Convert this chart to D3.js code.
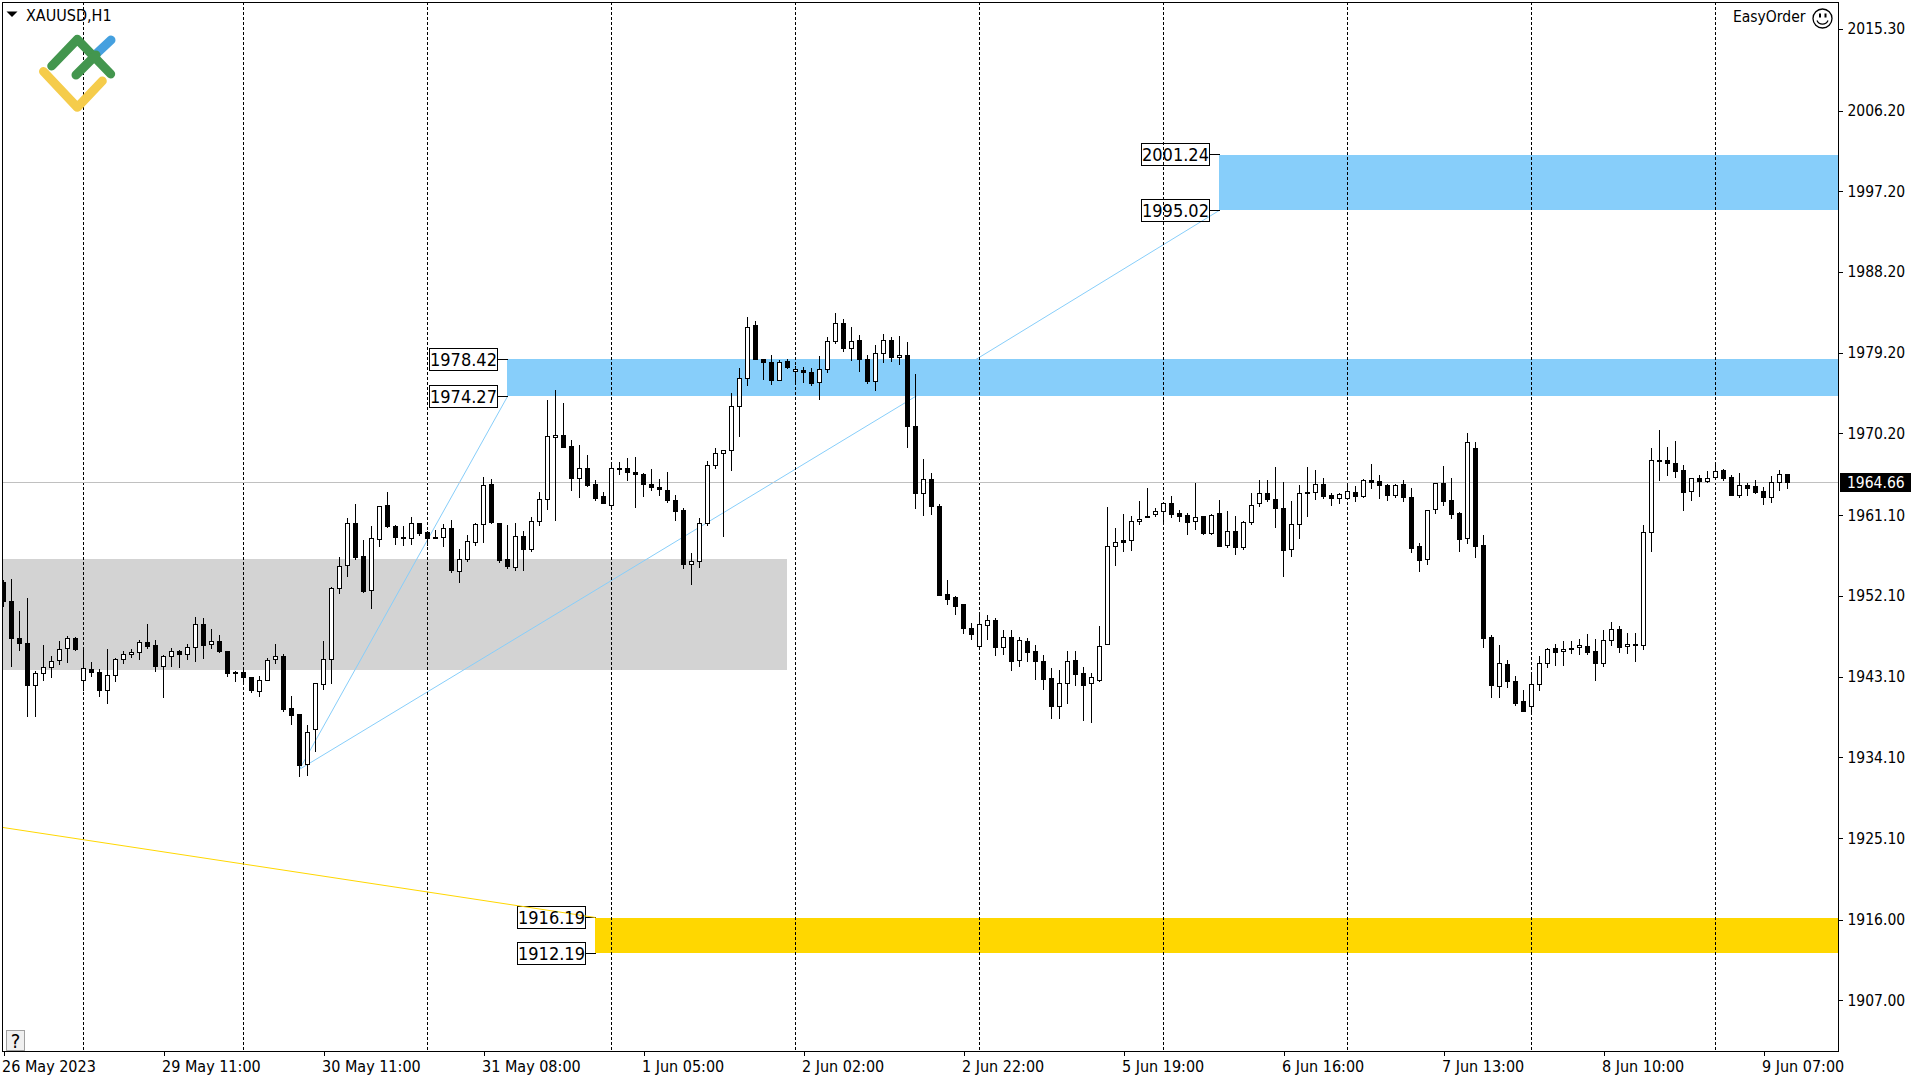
<!DOCTYPE html>
<html>
<head>
<meta charset="utf-8">
<title>XAUUSD,H1</title>
<script src="https://cdn.jsdelivr.net/npm/d3@7"></script>
<style>
html, body { margin: 0; padding: 0; background: #fff; }
svg { display: block; }
text { font-family: "DejaVu Sans Condensed", "DejaVu Sans", sans-serif; font-stretch: condensed; fill: #000; }
</style>
</head>
<body>
<div id="main"></div>
<script>
var opens = [
1953.50,1951.45,1947.32,1946.76,1942.00,1943.37,1944.04,1944.83,1946.13,1947.32,
1942.59,1943.82,1943.49,1941.44,1943.15,1944.94,1945.46,1945.72,1946.84,1946.50,
1944.12,1945.27,1945.87,1945.50,1946.28,1948.88,1946.61,1946.95,1945.83,1943.49,
1943.49,1942.93,1941.37,1942.59,1944.94,1945.31,1939.47,1938.80,1933.22,1937.12,
1942.15,1944.94,1952.86,1955.39,1960.12,1956.44,1952.64,1958.33,1962.13,1959.82,
1958.56,1958.45,1960.12,1959.11,1958.56,1958.56,1959.56,1954.72,1956.10,1958.00,
1960.01,1964.47,1960.12,1956.10,1955.21,1958.67,1957.22,1960.34,1962.80,1969.72,
1969.94,1968.64,1965.14,1966.26,1964.47,1963.13,1962.13,1966.26,1966.26,1965.81,
1965.59,1964.47,1964.14,1963.80,1962.69,1961.57,1955.54,1955.84,1960.12,1966.59,
1967.93,1968.23,1973.18,1976.31,1982.15,1978.43,1978.09,1976.08,1978.13,1977.09,
1977.20,1976.98,1975.86,1977.31,1980.44,1982.45,1979.65,1980.55,1978.43,1975.97,
1979.10,1980.47,1978.65,1978.87,1970.95,1963.43,1965.03,1962.02,1952.20,1951.86,
1951.08,1948.40,1946.43,1948.77,1949.26,1946.32,1947.36,1944.79,1946.91,1945.80,
1944.68,1942.78,1939.73,1942.22,1944.79,1943.34,1942.22,1942.63,1946.58,1957.52,
1958.19,1958.19,1960.31,1960.75,1961.09,1961.42,1962.32,1961.20,1960.98,1960.31,
1960.87,1959.04,1961.20,1957.70,1959.19,1957.48,1960.20,1962.32,1963.43,1962.76,
1961.76,1957.18,1959.97,1963.55,1963.55,1964.44,1963.21,1962.88,1962.88,1963.55,
1963.17,1964.88,1964.77,1964.36,1963.28,1964.43,1962.98,1957.51,1956.06,1961.64,
1964.54,1962.65,1961.19,1958.40,1968.45,1957.62,1947.35,1941.96,1944.34,1942.55,
1940.32,1939.76,1942.11,1944.52,1946.13,1945.79,1946.16,1946.24,1946.35,1945.79,
1944.52,1947.02,1948.25,1946.35,1946.57,1946.46,1959.07,1967.11,1967.11,1966.78,
1966.00,1963.65,1965.10,1964.84,1965.29,1966.00,1965.21,1963.28,1964.36,1964.21,
1963.65,1963.06,1964.73,1965.55
];
var highs = [
1953.79,1953.87,1950.33,1951.75,1943.64,1946.54,1945.31,1946.98,1947.54,1947.43,
1946.05,1944.60,1943.86,1946.05,1945.05,1945.87,1946.05,1947.02,1948.88,1947.06,
1945.42,1946.17,1945.98,1946.61,1949.66,1949.55,1948.32,1947.62,1945.83,1943.64,
1943.93,1942.93,1943.08,1945.05,1946.65,1945.50,1940.85,1938.80,1937.61,1942.26,
1946.98,1952.98,1956.36,1960.68,1962.28,1958.26,1959.82,1962.02,1963.51,1959.90,
1959.82,1960.83,1960.12,1959.19,1959.38,1960.01,1960.49,1957.25,1958.82,1960.12,
1965.29,1964.96,1960.12,1959.93,1960.12,1959.19,1960.79,1963.51,1973.78,1974.89,
1973.44,1969.31,1968.75,1967.64,1964.92,1963.62,1966.74,1966.93,1967.41,1967.52,
1965.63,1966.18,1964.96,1965.85,1963.24,1961.79,1956.81,1960.68,1967.04,1968.49,
1968.27,1974.56,1977.42,1983.12,1982.67,1978.43,1978.80,1978.32,1978.43,1977.61,
1977.46,1977.42,1978.69,1980.81,1983.49,1982.89,1982.00,1981.03,1978.87,1979.92,
1981.14,1980.88,1980.92,1980.25,1976.68,1967.19,1965.63,1962.28,1953.76,1951.94,
1951.08,1948.96,1949.93,1949.81,1949.52,1948.18,1948.18,1947.36,1947.25,1946.50,
1945.39,1943.94,1943.71,1945.83,1945.83,1944.05,1943.38,1948.62,1961.87,1959.56,
1961.13,1960.87,1962.58,1963.99,1961.76,1962.50,1963.14,1961.57,1961.20,1964.59,
1960.94,1961.09,1962.69,1961.46,1960.90,1960.31,1963.43,1964.89,1964.89,1966.37,
1964.70,1962.58,1964.33,1966.37,1966.04,1965.11,1963.43,1963.47,1964.55,1964.25,
1965.00,1966.70,1965.44,1964.43,1964.47,1964.92,1963.99,1957.85,1961.53,1964.54,
1966.48,1965.10,1961.34,1970.16,1969.12,1958.74,1947.61,1946.50,1944.82,1943.04,
1941.47,1943.33,1945.23,1946.16,1946.61,1946.94,1946.94,1947.17,1947.73,1947.17,
1948.17,1949.06,1948.58,1947.84,1947.84,1959.86,1968.49,1970.50,1968.60,1969.27,
1966.55,1965.18,1965.44,1965.92,1966.59,1966.11,1965.44,1965.70,1964.54,1964.92,
1964.10,1965.36,1966.03,1965.55
];
var lows = [
1950.89,1944.12,1945.98,1938.65,1938.65,1942.63,1942.89,1944.34,1944.64,1945.91,
1941.51,1943.08,1940.88,1940.10,1942.45,1944.45,1945.12,1944.90,1946.20,1943.56,
1940.66,1944.19,1944.08,1944.98,1944.68,1945.01,1946.13,1945.76,1943.00,1942.52,
1942.33,1941.22,1940.88,1942.56,1944.45,1939.10,1937.76,1931.95,1932.06,1934.74,
1941.55,1942.33,1952.27,1954.17,1956.06,1952.38,1950.59,1957.59,1959.71,1957.74,
1957.63,1957.74,1958.74,1957.70,1958.41,1957.51,1954.69,1953.57,1955.84,1957.70,
1957.96,1960.08,1955.73,1955.13,1954.84,1954.84,1956.96,1959.86,1961.64,1960.42,
1968.57,1963.77,1962.98,1964.25,1962.65,1962.31,1961.79,1965.55,1964.88,1961.87,
1963.10,1963.80,1963.21,1962.43,1960.42,1955.06,1953.27,1955.17,1959.86,1966.22,
1958.63,1966.00,1969.79,1975.45,1978.35,1976.16,1975.60,1976.05,1977.35,1975.86,
1975.78,1975.52,1973.92,1976.94,1980.18,1979.28,1978.28,1977.05,1975.71,1974.93,
1978.02,1978.17,1977.83,1968.57,1961.76,1960.98,1961.09,1952.12,1951.12,1949.96,
1947.84,1947.21,1946.24,1947.17,1945.42,1945.50,1943.71,1944.20,1944.72,1942.71,
1941.59,1938.39,1938.39,1940.03,1942.04,1938.17,1937.94,1942.52,1946.58,1955.47,
1957.03,1957.15,1960.05,1960.75,1960.87,1960.38,1960.83,1960.38,1958.89,1959.45,
1958.93,1958.89,1957.55,1957.48,1956.66,1957.18,1960.01,1961.95,1962.58,1959.68,
1954.24,1956.44,1958.45,1960.90,1962.80,1962.95,1962.13,1962.35,1962.80,1962.58,
1963.06,1964.02,1962.91,1962.68,1963.06,1962.61,1956.92,1954.76,1955.58,1961.27,
1962.13,1960.71,1957.03,1957.92,1956.36,1946.31,1940.73,1940.73,1941.85,1939.84,
1939.17,1938.94,1941.51,1944.08,1944.30,1944.26,1945.64,1945.49,1945.49,1942.63,
1944.19,1946.50,1945.68,1945.64,1944.75,1946.05,1957.03,1964.95,1965.51,1965.29,
1961.60,1962.72,1963.17,1964.69,1965.10,1964.95,1963.24,1963.06,1963.28,1963.50,
1962.27,1962.50,1963.84,1964.06
];
var closes = [
1951.37,1947.24,1946.69,1942.00,1943.37,1944.04,1944.71,1946.05,1947.28,1946.02,
1943.93,1943.45,1941.44,1943.15,1944.94,1945.50,1945.72,1946.87,1946.43,1944.12,
1945.27,1945.83,1945.46,1946.28,1948.84,1946.46,1946.95,1945.79,1943.34,1943.37,
1942.89,1941.44,1942.56,1944.83,1945.27,1939.43,1938.76,1933.18,1936.79,1942.26,
1944.94,1952.86,1955.32,1960.12,1956.36,1952.57,1958.41,1962.02,1959.75,1958.52,
1958.41,1960.12,1958.97,1958.41,1958.41,1959.56,1954.84,1956.06,1958.07,1960.01,
1964.36,1960.27,1955.95,1955.28,1958.67,1957.18,1960.34,1962.80,1969.83,1969.94,
1968.57,1965.11,1966.22,1964.40,1962.95,1962.39,1966.26,1966.18,1965.78,1965.55,
1964.44,1964.10,1963.88,1962.65,1961.42,1955.51,1955.84,1960.12,1966.59,1967.90,
1968.23,1973.18,1976.31,1982.00,1978.35,1978.05,1976.05,1978.09,1977.46,1977.31,
1976.94,1975.71,1977.31,1980.44,1982.45,1979.62,1980.44,1978.39,1975.93,1979.10,
1980.55,1978.65,1978.87,1970.91,1963.43,1965.03,1961.98,1952.12,1951.64,1950.86,
1948.44,1947.73,1948.81,1949.26,1946.32,1947.36,1944.75,1947.02,1945.76,1944.75,
1942.75,1939.73,1942.22,1944.68,1943.30,1942.08,1942.89,1946.35,1957.52,1958.04,
1958.04,1960.31,1960.61,1960.94,1961.50,1962.32,1961.13,1960.94,1960.27,1960.83,
1959.01,1961.05,1957.55,1959.19,1957.48,1960.20,1962.17,1963.40,1962.73,1961.83,
1957.15,1959.97,1963.43,1963.43,1964.44,1963.14,1962.88,1963.32,1963.66,1963.17,
1964.88,1964.73,1964.39,1963.28,1964.39,1963.06,1957.36,1956.02,1961.53,1964.54,
1962.61,1961.16,1958.37,1969.12,1957.59,1947.32,1942.07,1944.45,1942.52,1940.06,
1939.17,1942.11,1944.52,1946.01,1945.75,1946.09,1946.09,1946.46,1945.75,1944.52,
1947.02,1948.25,1946.31,1946.57,1946.50,1959.07,1967.11,1967.04,1966.85,1965.96,
1963.61,1965.10,1964.84,1965.18,1965.96,1965.18,1963.28,1964.32,1964.06,1963.61,
1963.06,1964.66,1965.55,1964.66
];

// bars that carry a time label, one every 20 bars
var timeTickBars = [0, 20, 40, 60, 80, 100, 120, 140, 160, 180, 200, 220];
var timeLabels = ["26 May 2023", "29 May 11:00", "30 May 11:00", "31 May 08:00", "1 Jun 05:00", "2 Jun 02:00",
                  "2 Jun 22:00", "5 Jun 19:00", "6 Jun 16:00", "7 Jun 13:00", "8 Jun 10:00", "9 Jun 07:00"];
var priceTicks = [2015.30, 2006.20, 1997.20, 1988.20, 1979.20, 1970.20, 1961.10, 1952.10, 1943.10, 1934.10, 1925.10, 1916.00, 1907.00];
var gridBars = [10, 30, 53, 76, 99, 122, 145, 168, 191, 214];
var lastPrice = 1964.66;

var zoneFrom = [-1, 63, 152, 74];
var zoneTo = [98, 230, 230, 230];
var zoneHigh = [1956.15, 1978.42, 2001.24, 1916.19];
var zoneLow = [1943.80, 1974.27, 1995.02, 1912.19];
var zoneColor = ["#d3d3d3", "#87cefa", "#87cefa", "#ffd700"];

// [bar, price, bar, price]
var blueLines = [[37, 1932.71, 63, 1974.27], [37, 1932.71, 114, 1974.27], [114, 1974.27, 152, 1995.02]];
var yellowLine = [-1, 1926.35, 74, 1916.19];

var ctx = {
    w: 1920,
    h: 1080,
    left: 2,
    right: 1838,
    top: 2,
    bottom: 1051
};

var x = d3.scaleLinear().domain([0, 223]).range([3.5, 3.5 + 8 * 223]);
var y = d3.scaleLinear().domain([2018.24, 1901.31]).range([ctx.top, ctx.bottom]);

// snap to the pixel grid so 1px lines stay sharp
var py = function(p){ return Math.floor(y(p)) + 0.5; };

var drawZones = function(g, from, to){
    for(var i = from; i < to; i++){
        var left = Math.floor(x(zoneFrom[i]));
        g.append("rect")
         .attr("x", left)
         .attr("y", Math.round(y(zoneHigh[i])))
         .attr("width", Math.floor(x(zoneTo[i])) - left)
         .attr("height", Math.round(y(zoneLow[i])) - Math.round(y(zoneHigh[i])))
         .style("fill", zoneColor[i])
         .style("shape-rendering", "crispEdges");
    }
};

var drawTrend = function(g, d, color){
    g.append("line")
     .attr("x1", x(d[0])).attr("y1", y(d[1]))
     .attr("x2", x(d[2])).attr("y2", y(d[3]))
     .style("stroke", color)
     .style("stroke-width", 1);
};

var drawCandles = function(g){
    var bars = d3.range(opens.length);

    g.selectAll("line.wick").data(bars).enter().append("line")
     .attr("class", "wick")
     .attr("x1", function(i){ return x(i); })
     .attr("x2", function(i){ return x(i); })
     .attr("y1", function(i){ return Math.floor(y(highs[i])); })
     .attr("y2", function(i){ return Math.floor(y(lows[i])) + 1; })
     .style("stroke", "#000")
     .style("shape-rendering", "crispEdges");

    g.selectAll("rect.body").data(bars).enter().append("rect")
     .attr("class", "body")
     .attr("x", function(i){ return x(i) - 2; })
     .attr("y", function(i){ return py(Math.max(opens[i], closes[i])); })
     .attr("width", 4)
     .attr("height", function(i){ return py(Math.min(opens[i], closes[i])) - py(Math.max(opens[i], closes[i])); })
     .style("fill", function(i){ return closes[i] > opens[i] ? "#fff" : "#000"; })
     .style("stroke", "#000")
     .style("shape-rendering", "crispEdges");
};

var drawLevelLabels = function(g){
    var rows = [[2, zoneHigh[2]], [2, zoneLow[2]], [1, zoneHigh[1]], [1, zoneLow[1]], [3, zoneHigh[3]], [3, zoneLow[3]]];
    rows.forEach(function(r){
        var right = Math.floor(x(zoneFrom[r[0]])) - 9.5;
        var cy = py(r[1]);
        g.append("rect")
         .attr("x", right - 68).attr("y", cy - 11)
         .attr("width", 68).attr("height", 22)
         .style("fill", "none")
         .style("stroke", "#000")
         .style("shape-rendering", "crispEdges");
        g.append("line")
         .attr("x1", right).attr("x2", right + 10)
         .attr("y1", cy).attr("y2", cy)
         .style("stroke", "#000")
         .style("shape-rendering", "crispEdges");
    });
    drawTrend(g, yellowLine, "#ffd700");
    rows.forEach(function(r){
        g.append("text")
         .attr("x", x(zoneFrom[r[0]]) - 44)
         .attr("y", py(r[1]) + 6.5)
         .attr("text-anchor", "middle")
         .style("font-size", "18px")
         .text(d3.format(".2f")(r[1]));
    });
};

var drawAxes = function(svg){
    var yAxis = d3.axisRight(y).tickValues(priceTicks).tickSize(4).tickPadding(5).tickFormat(d3.format(".2f"));
    var yg = svg.append("g").attr("transform", "translate(" + (ctx.right + 0.5) + ",0.5)").call(yAxis);
    yg.select(".domain").remove();
    yg.selectAll("text").style("font-size", "15.5px");
    yg.selectAll("line").style("shape-rendering", "crispEdges");

    var xAxis = d3.axisBottom(x).tickValues(timeTickBars).tickSize(4).tickPadding(5)
                  .tickFormat(function(d, i){ return timeLabels[i]; });
    var xg = svg.append("g").attr("transform", "translate(0," + (ctx.bottom + 0.5) + ")").call(xAxis);
    xg.select(".domain").remove();
    xg.selectAll("text").attr("text-anchor", "start").attr("x", -2).style("font-size", "16px");
    xg.selectAll("line").style("shape-rendering", "crispEdges");

    // last price flag over the price scale
    var cy = py(lastPrice);
    svg.append("rect")
       .attr("x", 1840).attr("y", cy - 9.5)
       .attr("width", 71).attr("height", 19)
       .style("fill", "#000");
    svg.append("text")
       .attr("x", 1847).attr("y", cy + 5.5)
       .style("font-size", "15.5px")
       .style("fill", "#fff")
       .text(d3.format(".2f")(lastPrice));
};

var drawLogo = function(svg){
    var paths = [
        ["M95 55L111 40", "#45a0df"],
        ["M43.5 71.5L77.3 107.3L102.3 81", "#f5cc4b"],
        ["M51.7 66L77.3 39.3L110.7 74", "#43964e"],
        ["M76 75L96 55", "#43964e"]
    ];
    paths.forEach(function(p){
        svg.append("path")
           .attr("d", p[0])
           .style("fill", "none")
           .style("stroke", p[1])
           .style("stroke-width", 9)
           .style("stroke-linecap", "round")
           .style("stroke-linejoin", "round");
    });
};

var drawChrome = function(svg){
    svg.append("path").attr("d", "M6.5 11.5L17.5 11.5L12 17Z").style("fill", "#000");
    svg.append("text").attr("x", 26).attr("y", 21).style("font-size", "16px").text("XAUUSD,H1");

    svg.append("text").attr("x", 1733).attr("y", 22).style("font-size", "15.5px").text("EasyOrder");
    var sm = svg.append("g").attr("transform", "translate(1822.5,18.5)")
                .style("fill", "none").style("stroke", "#000").style("stroke-width", 1.3);
    sm.append("circle").attr("r", 9.5);
    sm.append("path").attr("d", "M-5.5 2A6 6 0 0 0 5.5 2");
    sm.append("rect").attr("x", -3.5).attr("y", -5).attr("width", 2).attr("height", 4).style("fill", "#000").style("stroke", "none");
    sm.append("rect").attr("x", 2).attr("y", -5).attr("width", 2).attr("height", 4).style("fill", "#000").style("stroke", "none");

    svg.append("rect")
       .attr("x", 6.5).attr("y", 1030.5).attr("width", 18).attr("height", 20)
       .style("fill", "#f0f0f0").style("stroke", "#a0a0a0");
    svg.append("text").attr("x", 15.5).attr("y", 1047.5).attr("text-anchor", "middle").style("font-size", "20px").text("?");
};

var createViz = function(){
    var svg = d3.select("#main").append("svg").attr("width", ctx.w).attr("height", ctx.h);

    svg.append("clipPath").attr("id", "plot").append("rect")
       .attr("x", ctx.left).attr("y", ctx.top)
       .attr("width", ctx.right - ctx.left).attr("height", ctx.bottom - ctx.top);

    var plot = svg.append("g").attr("clip-path", "url(#plot)");

    drawZones(plot, 0, 1);
    blueLines.forEach(function(d){ drawTrend(plot, d, "#87cefa"); });
    drawZones(plot, 1, 4);

    plot.selectAll("line.grid").data(gridBars).enter().append("line")
        .attr("class", "grid")
        .attr("x1", function(d){ return x(d); })
        .attr("x2", function(d){ return x(d); })
        .attr("y1", ctx.top).attr("y2", ctx.bottom)
        .style("stroke", "#000")
        .style("stroke-dasharray", "3,2")
        .style("shape-rendering", "crispEdges");

    plot.append("line")
        .attr("x1", ctx.left).attr("x2", ctx.right)
        .attr("y1", py(lastPrice)).attr("y2", py(lastPrice))
        .style("stroke", "#c0c0c0")
        .style("shape-rendering", "crispEdges");

    drawCandles(plot);
    drawLevelLabels(plot);

    svg.append("rect")
       .attr("x", ctx.left + 0.5).attr("y", ctx.top + 0.5)
       .attr("width", ctx.right - ctx.left).attr("height", ctx.bottom - ctx.top)
       .style("fill", "none").style("stroke", "#000").style("shape-rendering", "crispEdges");

    drawAxes(svg);
    drawLogo(svg);
    drawChrome(svg);
};

createViz();
</script>
</body>
</html>
